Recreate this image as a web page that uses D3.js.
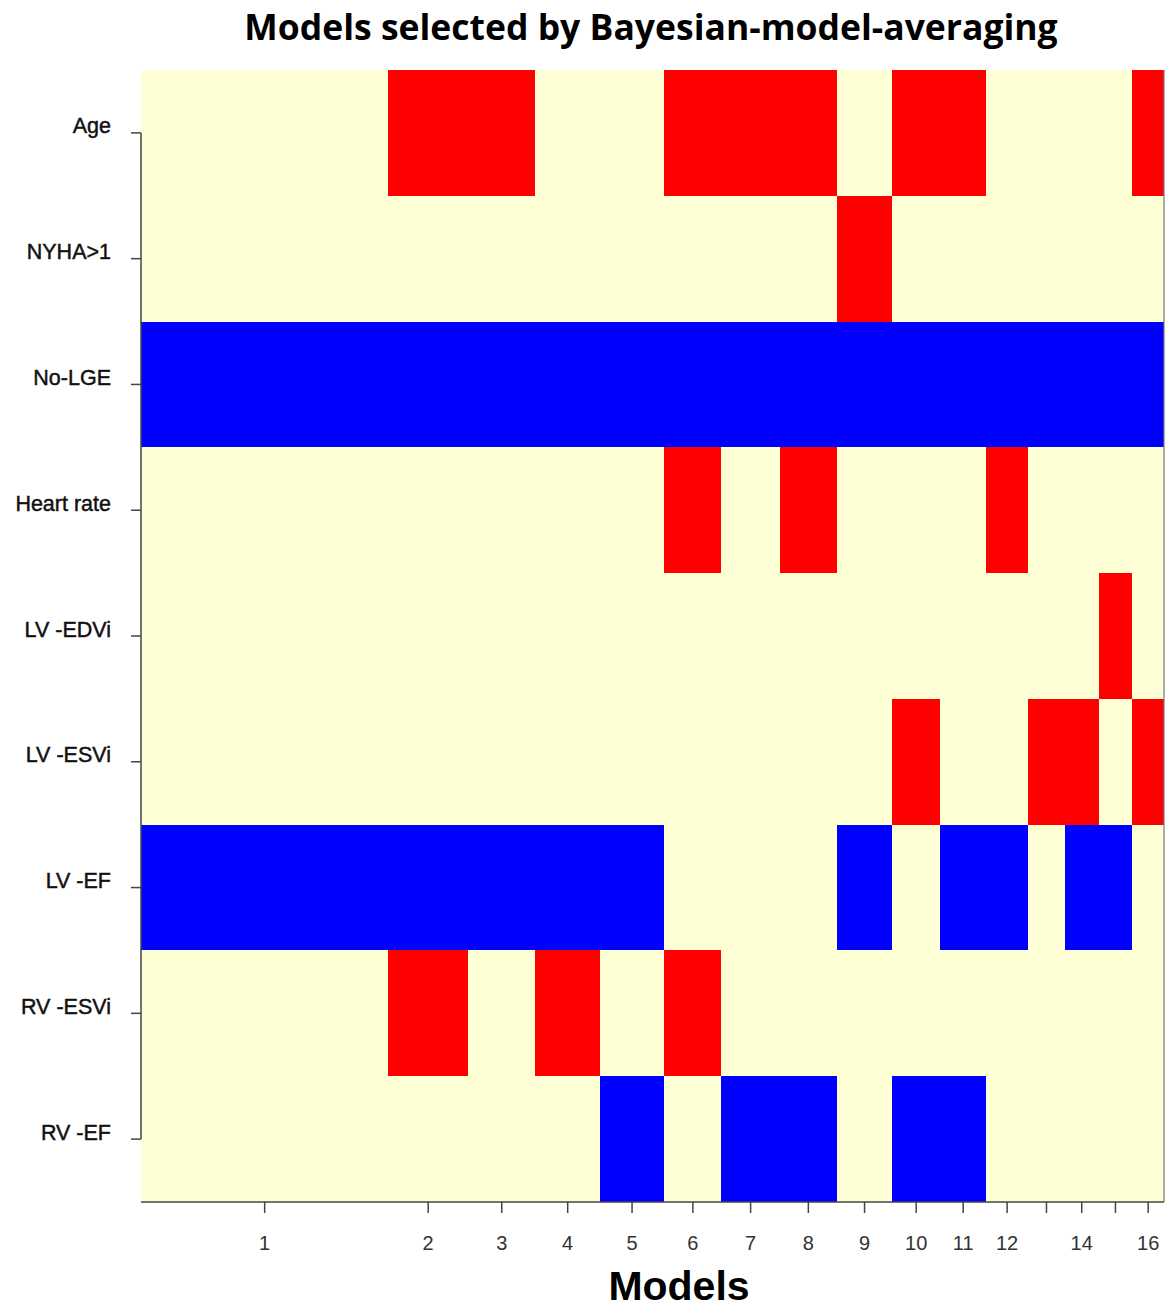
<!DOCTYPE html>
<html><head><meta charset="utf-8">
<script src="https://cdn.jsdelivr.net/npm/d3@7"></script>
<style>body{margin:0;background:#fff;} svg{display:block;}</style>
</head><body>
<script>
const variables = ["Age","NYHA>1","No-LGE","Heart rate","LV -EDVi","LV -ESVi","LV -EF","RV -ESVi","RV -EF"];
const modelLabels = ["1","2","3","4","5","6","7","8","9","10","11","12","","14","","16"];
const postProb = [0.242,0.078,0.066,0.063,0.063,0.056,0.057,0.056,0.054,0.047,0.045,0.041,0.036,0.033,0.033,0.031];
// 1 = positive (red), -1 = negative (blue), 0 = not in model
const sAge     = [0,1,1,0,0,1,1,1,0,1,1,0,0,0,0,1];
const sNYHA    = [0,0,0,0,0,0,0,0,1,0,0,0,0,0,0,0];
const sNoLGE   = [-1,-1,-1,-1,-1,-1,-1,-1,-1,-1,-1,-1,-1,-1,-1,-1];
const sHR      = [0,0,0,0,0,1,0,1,0,0,0,1,0,0,0,0];
const sLVEDVi  = [0,0,0,0,0,0,0,0,0,0,0,0,0,0,1,0];
const sLVESVi  = [0,0,0,0,0,0,0,0,0,1,0,0,1,1,0,1];
const sLVEF    = [-1,-1,-1,-1,-1,0,0,0,-1,0,-1,-1,0,-1,-1,0];
const sRVESVi  = [0,1,0,1,0,1,0,0,0,0,0,0,0,0,0,0];
const sRVEF    = [0,0,0,0,-1,0,-1,-1,0,-1,-1,0,0,0,0,0];
const signs = [sAge,sNYHA,sNoLGE,sHR,sLVEDVi,sLVESVi,sLVEF,sRVESVi,sRVEF];

(function(){
const W = 1167, H = 1310;
const pL = 141, pR = 1164, pT = 70, pB = 1202;
const bg = "#FFFFD5", posCol = "#FF0000", negCol = "#0000FF";

const svg = d3.select("body").append("svg").attr("width", W).attr("height", H);

const cum = [0];
postProb.forEach(p => cum.push(cum[cum.length-1] + p));
const x = d3.scaleLinear().domain([0, cum[cum.length-1]]).range([pL, pR]);
const y = d3.scaleBand().domain(variables).range([pT, pB]).padding(0);

svg.append("rect").attr("x", pL).attr("y", pT).attr("width", pR-pL).attr("height", pB-pT).attr("fill", bg);

const cells = [];
variables.forEach((v, i) => signs[i].forEach((s, j) => { if (s !== 0) cells.push({v, j, s}); }));
svg.append("g").selectAll("rect").data(cells).join("rect")
  .attr("x", d => x(cum[d.j]))
  .attr("width", d => x(cum[d.j+1]) - x(cum[d.j]))
  .attr("y", d => y(d.v))
  .attr("height", y.bandwidth())
  .attr("fill", d => d.s > 0 ? posCol : negCol)
  .attr("shape-rendering", "crispEdges");

svg.append("line").attr("x1", pR).attr("x2", pR).attr("y1", pT).attr("y2", pB)
  .attr("stroke", "#777").attr("stroke-width", 1.2);

const centers = postProb.map((p, j) => (cum[j] + cum[j+1]) / 2);
const xa = svg.append("g").attr("transform", `translate(0,${pB})`);
xa.append("line").attr("x1", pL).attr("x2", pR).attr("y1", 0).attr("y2", 0).attr("stroke", "#444").attr("stroke-width", 1.5);
xa.selectAll("line.t").data(centers).join("line").attr("class", "t")
  .attr("x1", d => x(d)).attr("x2", d => x(d)).attr("y1", 0).attr("y2", 11)
  .attr("stroke", "#444").attr("stroke-width", 1.5);
xa.selectAll("text").data(centers).join("text")
  .attr("x", d => x(d)).attr("y", 48)
  .attr("text-anchor", "middle")
  .attr("font-family", "Liberation Sans, Arial, sans-serif").attr("font-size", 20).attr("fill", "#333")
  .text((d, j) => modelLabels[j]);

const ya = svg.append("g");
const yc = v => y(v) + y.bandwidth()/2;
ya.append("line").attr("x1", pL).attr("x2", pL)
  .attr("y1", yc(variables[0])).attr("y2", yc(variables[variables.length-1]))
  .attr("stroke", "#444").attr("stroke-width", 1.5);
ya.selectAll("line.t").data(variables).join("line").attr("class", "t")
  .attr("x1", pL - 10).attr("x2", pL).attr("y1", d => yc(d)).attr("y2", d => yc(d))
  .attr("stroke", "#444").attr("stroke-width", 1.5);
ya.selectAll("text").data(variables).join("text")
  .attr("x", 111).attr("y", d => yc(d) - 7).attr("dy", "0.35em")
  .attr("text-anchor", "end")
  .attr("font-family", "Liberation Sans, Arial, sans-serif").attr("font-size", 21.5)
  .attr("fill", "#111").attr("stroke", "#111").attr("stroke-width", 0.45)
  .text(d => d);

svg.append("text").attr("x", 651).attr("y", 40).attr("text-anchor", "middle")
  .attr("font-family", "Open Sans, Liberation Sans, sans-serif").attr("font-weight", "bold").attr("font-size", 35.5)
  .attr("fill", "#000").text("Models selected by Bayesian-model-averaging");

svg.append("text").attr("x", 679).attr("y", 1300).attr("text-anchor", "middle")
  .attr("font-family", "Liberation Sans, Arial, sans-serif").attr("font-weight", "bold").attr("font-size", 41)
  .attr("fill", "#000").text("Models");
})();
</script>
</body></html>
